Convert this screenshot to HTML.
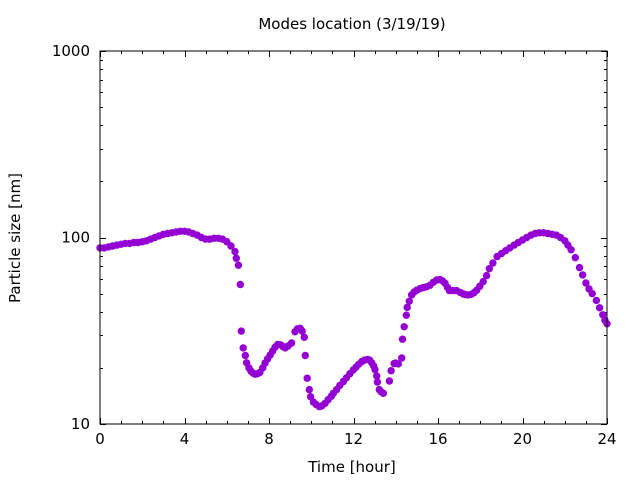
<!DOCTYPE html>
<html><head><meta charset="utf-8"><style>
body{margin:0;background:#fff;}
svg{display:block;font-family:"DejaVu Sans","Liberation Sans",sans-serif;}
</style></head><body>
<svg id="chart" width="640" height="480" viewBox="0 0 640 480" xmlns="http://www.w3.org/2000/svg">
<text x="352" y="29" font-size="15" text-anchor="middle">Modes location (3/19/19)</text>
<text x="352" y="472" font-size="15" text-anchor="middle">Time [hour]</text>
<text x="20" y="238" font-size="15" text-anchor="middle" transform="rotate(-90 20 238)">Particle size [nm]</text>
<g id="axes"></g>
<g id="points"></g>
<rect x="100" y="51" width="507" height="373" fill="none" stroke="#000" stroke-width="1"/>
</svg>
<script>
const hours = [0,0.2,0.4,0.6,0.8,1.0,1.2,1.4,1.6,1.8,2.0,2.2,2.4,2.6,2.8,3.0,3.2,3.4,3.6,3.8,4.0,4.2,4.4,4.6,4.8,5.0,5.2,5.4,5.6,5.8,6.0,6.2,6.39,6.45,6.55,6.64,6.69,6.78,6.88,6.94,7.05,7.15,7.25,7.34,7.45,7.57,7.7,7.81,7.93,8.05,8.17,8.29,8.41,8.55,8.66,8.76,8.9,9.07,9.23,9.35,9.47,9.57,9.67,9.72,9.81,9.91,9.97,10.1,10.24,10.38,10.5,10.65,10.8,10.95,11.05,11.2,11.35,11.52,11.67,11.83,11.99,12.12,12.25,12.39,12.52,12.66,12.76,12.86,12.95,13.02,13.1,13.13,13.22,13.3,13.41,13.7,13.78,13.92,14.0,14.12,14.28,14.32,14.4,14.5,14.54,14.64,14.75,14.87,14.99,15.15,15.3,15.46,15.62,15.78,15.94,16.1,16.22,16.33,16.45,16.54,16.7,16.88,17.05,17.2,17.32,17.43,17.58,17.7,17.83,17.98,18.14,18.3,18.43,18.6,18.8,19.0,19.2,19.4,19.6,19.8,20.0,20.2,20.4,20.6,20.8,21.0,21.2,21.4,21.6,21.8,22.0,22.15,22.3,22.5,22.7,22.85,23.0,23.15,23.3,23.5,23.65,23.8,23.9,24.0];
const sizes = [88,88,89,90,91,92,93,93,94,94,95,96,98,100,102,104,105,106,107,108,108,107,105,103,100,98,98,99,99,98,95,90,84,77.4,71,56,31.5,25.6,23.3,21.3,20,19.2,18.7,18.5,18.6,18.9,20,21.2,22.3,23.4,24.6,25.8,26.7,26.6,26,25.6,26.2,27.2,31.2,32.4,32.6,31.5,29.2,23.3,17.6,15.3,14,13.1,12.7,12.4,12.5,12.9,13.5,14.1,14.6,15.3,16.1,16.9,17.7,18.6,19.5,20.2,20.9,21.6,22,22.2,22,21.3,20.5,19.6,18.1,16.8,15.3,14.9,14.6,17,19.3,21.1,21.2,21,22.6,28.5,33.2,38.3,42.2,45.5,49.2,51,52.2,53.2,53.9,54.4,55.5,57.5,59.2,59.5,58.5,56.8,54,51.9,51.9,51.9,50.8,49.8,49.4,49.2,49.6,50.6,52.2,54.8,58,62.5,68,73,79,82,85,88,91,94,97,100,103,105,106,106,105,104,103,100,96,91,86,78,69,63,57,53,50,46,42,38.5,36,34.5];
const xTicks = [0,4,8,12,16,20,24];
const xTickLabels = ["0","4","8","12","16","20","24"];
const yTicks = [10,100,1000];
const yTickLabels = ["10","100","1000"];

const NS = "http://www.w3.org/2000/svg";
const X0 = 100, X1 = 607, Y0 = 424, Y1 = 51;
const xMin = 0, xMax = 24, yMin = 10, yMax = 1000;
function xScale(h){ return X0 + (h - xMin) / (xMax - xMin) * (X1 - X0); }
function yScale(v){ return Y0 - (Math.log10(v) - Math.log10(yMin)) / (Math.log10(yMax) - Math.log10(yMin)) * (Y0 - Y1); }

const axes = document.getElementById('axes');
function line(x1,y1,x2,y2,name){
  const l = document.createElementNS(NS,'line');
  l.setAttribute('x1',x1); l.setAttribute('y1',y1); l.setAttribute('x2',x2); l.setAttribute('y2',y2);
  l.setAttribute('stroke','#000'); l.setAttribute('stroke-width','1');
  
  
  axes.appendChild(l);
}
function label(x,y,txt,anchor,name){
  const t = document.createElementNS(NS,'text');
  t.setAttribute('x',x); t.setAttribute('y',y); t.setAttribute('font-size','15'); t.setAttribute('text-anchor',anchor);
  t.textContent = txt;
  
  
  axes.appendChild(t);
}
for (let h = xMin; h <= xMax; h++) {
  const x = Math.round(xScale(h)) + 0.5;
  const major = xTicks.indexOf(h) >= 0;
  const len = major ? 6 : 3;
  line(x, Y0, x, Y0 - len, 'x-tick');
  line(x, Y1, x, Y1 + len, 'x-tick-top');
}
xTicks.forEach((h,i) => label(xScale(h), Y0 + 20, xTickLabels[i], 'middle', 'x-tick-label'));
for (let d = 1; d <= 2; d++) {
  for (let m = 1; m <= 9; m++) {
    const v = Math.pow(10, d) * m;
    if (v > yMax) break;
    const y = Math.round(yScale(v)) + 0.5;
    const len = m === 1 ? 6 : 3;
    line(X0, y, X0 + len, y, 'y-tick');
    line(X1, y, X1 - len, y, 'y-tick-right');
  }
}
line(X0, Y1 + 0.5, X0 + 6, Y1 + 0.5, 'y-tick');
line(X1, Y1 + 0.5, X1 - 6, Y1 + 0.5, 'y-tick-right');
yTicks.forEach((v,i) => label(X0 - 10, yScale(v) + 5, yTickLabels[i], 'end', 'y-tick-label'));

const pts = document.getElementById('points');
hours.forEach((h,i) => {
  const c = document.createElementNS(NS,'circle');
  c.setAttribute('cx', xScale(h).toFixed(1));
  c.setAttribute('cy', yScale(sizes[i]).toFixed(1));
  c.setAttribute('r', '3.7');
  c.setAttribute('fill', '#9400d3');
  
  
  pts.appendChild(c);
});
</script>
</body></html>
